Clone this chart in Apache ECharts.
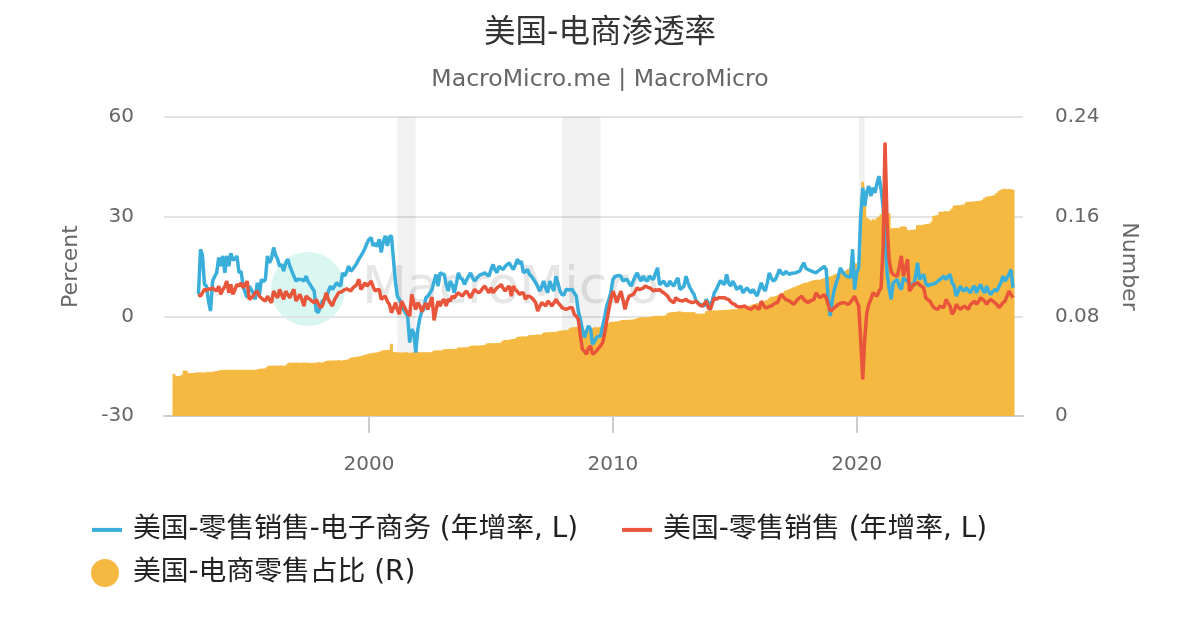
<!DOCTYPE html>
<html><head><meta charset="utf-8">
<script src="https://cdn.jsdelivr.net/npm/echarts@6/dist/echarts.min.js"></script>
<style>html,body{margin:0;padding:0;background:#fff}#c{width:1200px;height:630px}</style>
</head><body><div id="c"></div>
<script>
// US e-commerce retail sales YoY (%), monthly from 1993-01
const ecomYoY = [
6.6, 20.2, 18.5, 9.6, 9.1, 4.5, 1.6, 10.6, 12.0, 13.1, 17.7, 15.1,
18.2, 13.1, 18.2, 15.1, 19.0, 17.0, 17.2, 18.2, 13.1, 13.6, 9.1, 7.2,
5.6, 9.1, 9.6, 7.0, 5.1, 10.1, 6.1, 11.1, 10.5, 11.1, 18.2, 16.1,
17.5, 20.7, 18.5, 17.2, 15.1, 15.6, 13.6, 16.1, 17.2, 15.1, 13.5, 12.1,
10.6, 11.2, 11.6, 11.0, 10.6, 12.1, 10.5, 9.6, 8.5, 7.6, 1.6, 1.1,
3.0, 4.6, 5.2, 5.6, 7.5, 9.1, 8.1, 9.0, 10.1, 9.5, 9.1, 13.1,
12.1, 13.5, 15.1, 13.6, 14.2, 15.1, 16.0, 17.2, 18.2, 19.2, 20.5, 22.0,
23.2, 23.7, 21.2, 22.0, 21.0, 23.2, 19.2, 22.5, 24.2, 21.2, 24.0, 24.2,
17.0, 10.1, 6.0, 5.1, 3.5, 2.1, 1.0, 0.1, -7.9, -3.9, -4.9, -10.9,
-3.9, -0.5, 1.5, 2.1, 5.6, 6.1, 7.0, 8.1, 10.5, 12.6, 9.1, 13.1,
12.8, 12.6, 9.6, 7.6, 10.6, 9.5, 7.1, 10.0, 13.1, 11.5, 11.1, 9.6,
11.0, 12.1, 13.1, 11.5, 10.6, 11.5, 12.1, 12.6, 12.8, 13.1, 12.5, 12.1,
14.1, 15.6, 14.0, 13.1, 15.1, 14.5, 14.1, 15.0, 15.6, 16.1, 15.0, 14.1,
15.5, 17.2, 15.8, 16.6, 13.1, 13.5, 14.1, 12.6, 12.0, 11.1, 10.1, 9.0,
7.6, 9.0, 10.6, 8.5, 7.1, 10.6, 9.0, 7.6, 12.1, 10.0, 7.6, 6.5,
6.5, 8.1, 7.8, 8.0, 8.1, 7.0, 6.1, 1.6, -1.0, -3.9, -6.4, -4.5,
-2.9, -3.9, -8.4, -7.5, -6.4, -6.0, -5.9, -2.9, 0.0, 3.1, 5.0, 7.1,
11.1, 12.0, 12.6, 12.3, 12.1, 10.6, 11.0, 11.1, 10.0, 9.1, 10.6, 12.0,
13.1, 11.5, 10.6, 12.1, 11.0, 10.6, 12.1, 11.5, 11.1, 13.0, 14.6, 9.6,
10.0, 10.6, 9.5, 9.1, 10.6, 9.8, 9.1, 10.5, 11.6, 8.1, 8.5, 9.1,
12.1, 10.0, 8.6, 7.5, 6.6, 4.6, 4.0, 3.6, 3.3, 3.1, 5.1, 4.0,
3.1, 5.0, 7.1, 8.1, 9.5, 10.8, 10.0, 9.6, 12.6, 10.0, 9.1, 10.6,
9.5, 8.1, 8.5, 9.1, 7.1, 7.8, 8.6, 7.8, 7.1, 8.1, 7.0, 6.1,
8.0, 10.1, 8.5, 7.6, 10.0, 13.1, 11.5, 10.6, 11.1, 12.5, 14.1, 13.0,
12.6, 13.5, 14.1, 12.6, 13.0, 13.0, 13.1, 13.4, 13.6, 15.0, 16.1, 14.5,
14.1, 13.8, 13.6, 13.3, 13.1, 13.6, 14.1, 14.5, 15.1, 14.1, 5.1, 0.1,
5.0, 8.1, 10.1, 12.0, 14.6, 13.5, 12.6, 12.1, 12.0, 11.6, 20.2, 8.1,
13.1, 14.6, 30.0, 38.7, 33.2, 37.5, 39.2, 36.2, 38.7, 37.2, 40.0, 42.2,
38.2, 32.7, 23.2, 13.1, 8.5, 5.1, 10.1, 10.6, 11.1, 9.0, 8.1, 11.6,
11.0, 10.6, 9.6, 9.8, 9.1, 12.0, 16.1, 11.1, 12.0, 12.6, 10.0, 9.1,
9.6, 9.6, 9.6, 10.0, 10.6, 11.1, 11.5, 12.1, 11.1, 12.0, 12.6, 10.0,
9.1, 6.1, 7.5, 9.1, 8.0, 7.6, 8.6, 7.8, 7.1, 8.5, 9.1, 7.1,
8.5, 9.6, 8.0, 7.1, 9.1, 7.5, 6.6, 7.5, 8.1, 7.6, 9.0, 10.1,
12.1, 10.6, 11.5, 12.6, 14.1, 8.6
];
// US retail sales YoY (%), monthly from 1993-01
const retailYoY = [
6.6, 6.1, 5.6, 8.1, 7.8, 8.3, 8.1, 8.6, 8.0, 7.6, 9.1, 6.6,
8.0, 9.0, 10.6, 7.1, 9.6, 6.6, 8.0, 9.6, 9.1, 10.1, 8.6, 9.5,
10.6, 5.1, 5.6, 6.1, 7.0, 7.6, 6.1, 5.5, 5.0, 4.6, 6.1, 5.0,
4.1, 7.6, 6.5, 5.6, 8.1, 6.5, 5.1, 7.6, 6.5, 5.6, 7.0, 8.1,
4.6, 5.5, 6.6, 5.0, 3.1, 6.1, 5.5, 5.1, 4.5, 4.1, 5.1, 3.8,
2.6, 3.2, 3.6, 7.1, 5.0, 4.0, 3.1, 5.0, 6.0, 7.1, 7.3, 7.6,
8.0, 8.3, 8.6, 7.6, 8.5, 9.0, 9.6, 11.1, 8.1, 9.0, 10.1, 9.1,
9.8, 10.6, 9.0, 7.6, 8.0, 8.1, 5.1, 5.6, 6.1, 4.5, 3.6, 1.1,
2.5, 4.1, 2.0, 0.6, 4.6, 3.3, 2.1, 1.0, 0.1, 6.6, 4.0, 2.1,
4.1, 3.1, 1.3, 3.0, 4.0, 2.1, 4.0, 5.8, -1.2, 2.0, 4.6, 3.1,
4.6, 5.1, 3.1, 5.1, 4.6, 6.1, 5.5, 6.5, 7.1, 6.5, 6.1, 7.0,
7.6, 6.5, 5.6, 7.0, 8.1, 7.5, 7.1, 7.6, 8.5, 9.1, 8.0, 7.1,
8.6, 7.1, 7.8, 8.6, 9.0, 9.6, 8.5, 7.6, 8.5, 9.1, 6.1, 9.1,
8.0, 7.5, 6.6, 7.0, 7.1, 5.1, 6.1, 6.0, 5.6, 5.0, 4.1, 1.6,
3.0, 4.1, 3.6, 3.1, 4.6, 4.0, 3.1, 4.0, 5.1, 4.1, 3.5, 2.6,
2.3, 2.1, 2.4, 2.6, 2.6, 0.6, 0.0, -0.9, -5.9, -9.9, -10.5, -11.4,
-9.5, -8.9, -11.4, -11.0, -10.4, -9.5, -8.9, -7.9, -5.0, -1.4, 2.0, 5.1,
7.6, 6.0, 4.1, 6.0, 7.6, 5.0, 2.1, 4.5, 6.1, 6.3, 6.6, 7.5,
8.6, 8.0, 7.6, 8.5, 9.1, 8.8, 8.6, 8.2, 7.6, 8.0, 7.8, 8.1,
7.5, 7.1, 7.1, 6.1, 5.0, 4.5, 4.1, 5.6, 5.0, 4.8, 4.6, 4.8,
5.1, 4.6, 4.3, 4.1, 4.3, 4.6, 3.8, 3.3, 3.1, 3.8, 4.6, 2.5,
2.1, 4.0, 5.6, 5.1, 5.6, 5.6, 5.6, 5.6, 5.2, 5.1, 4.3, 3.8,
3.6, 3.0, 2.6, 2.8, 3.0, 3.1, 2.6, 2.3, 2.1, 2.6, 3.1, 2.5,
2.1, 4.6, 3.5, 2.6, 2.6, 3.0, 3.1, 3.6, 4.0, 4.1, 5.5, 6.6,
5.8, 5.1, 4.8, 4.6, 4.1, 3.6, 4.3, 5.1, 5.6, 6.1, 5.0, 4.6,
4.1, 4.6, 4.8, 5.1, 7.1, 6.3, 5.6, 6.0, 6.6, 5.6, 3.5, 1.6,
2.0, 2.6, 3.1, 3.6, 3.9, 4.1, 4.1, 3.8, 3.6, 4.3, 5.1, 6.1,
4.5, 3.1, -6.9, -19.0, -6.9, 1.1, 3.6, 5.1, 7.1, 6.5, 6.1, 7.5,
8.6, 21.2, 52.3, 28.2, 17.0, 13.5, 12.6, 12.3, 12.1, 15.0, 18.2, 12.1,
14.5, 17.2, 7.6, 8.5, 9.6, 9.8, 10.1, 9.5, 9.0, 8.6, 5.6, 5.0,
4.6, 3.5, 2.6, 2.3, 2.1, 3.1, 2.8, 2.6, 5.1, 4.0, 3.1, 0.6,
1.5, 3.6, 2.8, 2.1, 2.6, 3.1, 2.6, 2.1, 3.6, 4.0, 4.6, 3.6,
4.5, 5.6, 5.0, 4.6, 3.6, 4.5, 5.1, 4.6, 4.1, 3.6, 2.6, 3.3,
4.1, 4.6, 5.1, 7.6, 6.6, 5.6
];
// US e-commerce share of retail sales, monthly from 1992-01
const ecomShare = [
0.0337, 0.0320, 0.0320, 0.0320, 0.0330, 0.0364, 0.0364, 0.0345, 0.0345, 0.0345, 0.0345, 0.0350,
0.0348, 0.0352, 0.0345, 0.0350, 0.0350, 0.0355, 0.0352, 0.0355, 0.0357, 0.0360, 0.0362, 0.0370,
0.0368, 0.0370, 0.0370, 0.0370, 0.0370, 0.0370, 0.0370, 0.0370, 0.0370, 0.0370, 0.0370, 0.0370,
0.0370, 0.0370, 0.0370, 0.0370, 0.0370, 0.0372, 0.0378, 0.0380, 0.0380, 0.0382, 0.0395, 0.0404,
0.0404, 0.0404, 0.0403, 0.0404, 0.0404, 0.0404, 0.0405, 0.0404, 0.0420, 0.0428, 0.0426, 0.0428,
0.0428, 0.0428, 0.0426, 0.0428, 0.0428, 0.0428, 0.0428, 0.0425, 0.0425, 0.0428, 0.0425, 0.0432,
0.0430, 0.0425, 0.0435, 0.0440, 0.0444, 0.0444, 0.0446, 0.0444, 0.0446, 0.0448, 0.0444, 0.0446,
0.0450, 0.0452, 0.0455, 0.0465, 0.0471, 0.0471, 0.0475, 0.0478, 0.0480, 0.0485, 0.0490, 0.0495,
0.0500, 0.0503, 0.0505, 0.0508, 0.0510, 0.0515, 0.0520, 0.0528, 0.0530, 0.0530, 0.0532, 0.0580,
0.0515, 0.0512, 0.0510, 0.0510, 0.0508, 0.0510, 0.0512, 0.0510, 0.0505, 0.0508, 0.0512, 0.0512,
0.0512, 0.0511, 0.0511, 0.0512, 0.0511, 0.0512, 0.0511, 0.0512, 0.0525, 0.0525, 0.0527, 0.0525,
0.0527, 0.0535, 0.0536, 0.0536, 0.0538, 0.0536, 0.0537, 0.0540, 0.0550, 0.0551, 0.0549, 0.0552,
0.0551, 0.0553, 0.0562, 0.0565, 0.0565, 0.0566, 0.0565, 0.0567, 0.0568, 0.0570, 0.0582, 0.0584,
0.0584, 0.0583, 0.0585, 0.0586, 0.0585, 0.0590, 0.0605, 0.0610, 0.0610, 0.0612, 0.0615, 0.0618,
0.0620, 0.0632, 0.0637, 0.0636, 0.0640, 0.0637, 0.0640, 0.0648, 0.0650, 0.0650, 0.0652, 0.0655,
0.0652, 0.0655, 0.0668, 0.0670, 0.0672, 0.0672, 0.0675, 0.0673, 0.0676, 0.0680, 0.0685, 0.0685,
0.0686, 0.0688, 0.0690, 0.0705, 0.0712, 0.0712, 0.0715, 0.0712, 0.0700, 0.0692, 0.0690, 0.0690,
0.0690, 0.0695, 0.0705, 0.0712, 0.0712, 0.0712, 0.0715, 0.0740, 0.0744, 0.0746, 0.0744, 0.0755,
0.0757, 0.0757, 0.0758, 0.0760, 0.0768, 0.0771, 0.0771, 0.0772, 0.0771, 0.0774, 0.0775, 0.0778,
0.0785, 0.0790, 0.0792, 0.0792, 0.0794, 0.0792, 0.0795, 0.0798, 0.0800, 0.0803, 0.0803, 0.0805,
0.0803, 0.0805, 0.0806, 0.0825, 0.0830, 0.0833, 0.0835, 0.0833, 0.0838, 0.0840, 0.0836, 0.0833,
0.0833, 0.0833, 0.0832, 0.0834, 0.0833, 0.0822, 0.0820, 0.0820, 0.0822, 0.0820, 0.0840, 0.0846,
0.0846, 0.0846, 0.0848, 0.0846, 0.0848, 0.0850, 0.0850, 0.0851, 0.0852, 0.0853, 0.0855, 0.0856,
0.0858, 0.0858, 0.0865, 0.0865, 0.0870, 0.0876, 0.0876, 0.0884, 0.0888, 0.0895, 0.0898, 0.0905,
0.0905, 0.0912, 0.0918, 0.0925, 0.0932, 0.0945, 0.0958, 0.0955, 0.0962, 0.0968, 0.0975, 0.0980,
0.0992, 0.1005, 0.1012, 0.1018, 0.1025, 0.1032, 0.1038, 0.1045, 0.1052, 0.1060, 0.1066, 0.1070,
0.1072, 0.1080, 0.1085, 0.1090, 0.1092, 0.1095, 0.1090, 0.1100, 0.1105, 0.1110, 0.1115, 0.1120,
0.1125, 0.1135, 0.1140, 0.1146, 0.1150, 0.1155, 0.1160, 0.1170, 0.1180, 0.1195, 0.1210, 0.1222,
0.1225, 0.1230, 0.1300, 0.1880, 0.1700, 0.1590, 0.1580, 0.1565, 0.1580, 0.1570, 0.1590, 0.1600,
0.1620, 0.1630, 0.1635, 0.1630, 0.1625, 0.1507, 0.1505, 0.1510, 0.1507, 0.1510, 0.1520, 0.1522,
0.1518, 0.1494, 0.1490, 0.1495, 0.1494, 0.1498, 0.1530, 0.1534, 0.1530, 0.1536, 0.1540, 0.1542,
0.1545, 0.1560, 0.1605, 0.1610, 0.1612, 0.1640, 0.1638, 0.1642, 0.1645, 0.1640, 0.1648, 0.1665,
0.1690, 0.1688, 0.1692, 0.1690, 0.1695, 0.1698, 0.1715, 0.1720, 0.1718, 0.1722, 0.1720, 0.1725,
0.1725, 0.1728, 0.1735, 0.1750, 0.1760, 0.1762, 0.1765, 0.1768, 0.1775, 0.1790, 0.1805, 0.1815,
0.1820, 0.1825, 0.1818, 0.1822, 0.1820, 0.1815
];
// Recession periods [start, end] as [year, month, day]
const recessions = [[[2001, 3, 1], [2001, 11, 30]], [[2007, 12, 1], [2009, 6, 30]], [[2020, 2, 1], [2020, 4, 30]]];
const xTickYears = [2000, 2010, 2020];
const leftTicks = { min: -30, max: 60, interval: 30 };
const rightTicks = { min: 0, max: 0.24, interval: 0.08 };

const ts = (y, m, d) => Date.UTC(y, m - 1, d || 1);
function monthSeq(y, m, n) {
  const out = [];
  for (let i = 0; i < n; i++) out.push(Date.UTC(y, m - 1 + i, 1));
  return out;
}
const lineDates = monthSeq(1993, 1, ecomYoY.length);
const barDates = monthSeq(1992, 1, ecomShare.length);
const zip = (d, v) => d.map((x, i) => [x, v[i]]);
const yearTicks = xTickYears.map(y => ts(y, 1, 1));
const recessionData = recessions.map(r => [ts(...r[0]), ts(...r[1])]);

const FONT = '"DejaVu Sans", "Noto Sans CJK SC", sans-serif';
const NAMES = ['美国-零售销售-电子商务 (年增率, L)', '美国-零售销售 (年增率, L)', '美国-电商零售占比 (R)'];
const LINE_PATH = 'path://M0,0 L30,0 L30,4 L0,4 Z';

const chart = echarts.init(document.getElementById('c'), null, { renderer: 'canvas' });
chart.setOption({
  animation: false,
  textStyle: { fontFamily: FONT },
  title: [
    { text: '美国-电商渗透率', left: 'center', top: 13, textStyle: { fontSize: 31.5, fontWeight: 'normal', color: '#333', fontFamily: FONT } },
    { text: 'MacroMicro.me | MacroMicro', left: 'center', top: 63, textStyle: { fontSize: 23.6, fontWeight: 'normal', color: '#666', fontFamily: FONT } }
  ],
  graphic: [
    { type: 'circle', z: 0, shape: { cx: 308, cy: 289, r: 37 }, style: { fill: '#d9f6f0' } },
    { type: 'text', z: 0, x: 362, y: 289, style: { text: 'MacroMicro', fontSize: 52, fontFamily: FONT, fill: '#e6e6e6', verticalAlign: 'middle' } }
  ],
  legend: [
    { data: [{ name: NAMES[0], icon: LINE_PATH }, { name: NAMES[1], icon: LINE_PATH }],
      left: 87, top: 511, itemGap: 44, itemWidth: 30, itemHeight: 4,
      textStyle: { fontSize: 27.8, color: '#222', fontFamily: FONT, padding: [0, 0, 0, 6] } },
    { data: [{ name: NAMES[2], icon: 'circle' }], left: 86, top: 554, itemWidth: 28, itemHeight: 28,
      textStyle: { fontSize: 27.8, color: '#222', fontFamily: FONT, padding: [0, 0, 0, 9] } }
  ],
  grid: { left: 164, right: 177, top: 117, bottom: 214, containLabel: false },
  xAxis: {
    type: 'value', min: ts(1991, 8, 4), max: ts(2026, 10, 28), scale: true,
    axisLine: { onZero: false, lineStyle: { color: '#cccccc', width: 2 } },
    axisTick: { show: true, length: 17, lineStyle: { color: '#cccccc', width: 2 }, customValues: yearTicks },
    axisLabel: { fontSize: 20, color: '#666', margin: 39, fontFamily: FONT, customValues: yearTicks,
      formatter: v => String(new Date(v).getUTCFullYear()) },
    splitLine: { show: false }
  },
  yAxis: [
    { type: 'value', min: leftTicks.min, max: leftTicks.max, interval: leftTicks.interval,
      name: 'Percent', nameLocation: 'middle', nameGap: 82,
      nameTextStyle: { fontSize: 22, color: '#666', fontFamily: FONT },
      axisLine: { show: false }, axisTick: { show: false },
      axisLabel: { fontSize: 20, color: '#666', margin: 30, fontFamily: FONT },
      splitLine: { lineStyle: { color: '#e3e3e3', width: 2 } } },
    { type: 'value', min: rightTicks.min, max: rightTicks.max, interval: rightTicks.interval, position: 'right',
      name: 'Number', nameLocation: 'middle', nameGap: 95, nameRotate: -90,
      nameTextStyle: { fontSize: 22, color: '#666', fontFamily: FONT },
      axisLine: { show: false }, axisTick: { show: false },
      axisLabel: { fontSize: 20, color: '#666', margin: 32, fontFamily: FONT,
        formatter: v => (v === 0 ? '0' : v.toFixed(2)) },
      splitLine: { show: false } }
  ],
  series: [
    { type: 'custom', name: 'recession', silent: true, z: 1, yAxisIndex: 0,
      data: recessionData, encode: { x: [0, 1] },
      renderItem: (params, api) => {
        const p0 = api.coord([api.value(0), leftTicks.max]);
        const p1 = api.coord([api.value(1), leftTicks.min]);
        return { type: 'rect', shape: { x: p0[0], y: p0[1], width: p1[0] - p0[0], height: p1[1] - p0[1] },
          style: { fill: 'rgba(0,0,0,0.055)' } };
      } },
    { type: 'bar', name: NAMES[2], yAxisIndex: 1, data: zip(barDates, ecomShare),
      barWidth: 3, itemStyle: { color: '#f5b942' }, z: 2 },
    { type: 'line', name: NAMES[0], yAxisIndex: 0, data: zip(lineDates, ecomYoY),
      showSymbol: false, symbol: 'none', lineStyle: { color: '#3aaedb', width: 3.5 }, itemStyle: { color: '#3aaedb' }, z: 3 },
    { type: 'line', name: NAMES[1], yAxisIndex: 0, data: zip(lineDates, retailYoY),
      showSymbol: false, symbol: 'none', lineStyle: { color: '#e8553a', width: 3.5 }, itemStyle: { color: '#e8553a' }, z: 4 }
  ]
});
</script></body></html>
